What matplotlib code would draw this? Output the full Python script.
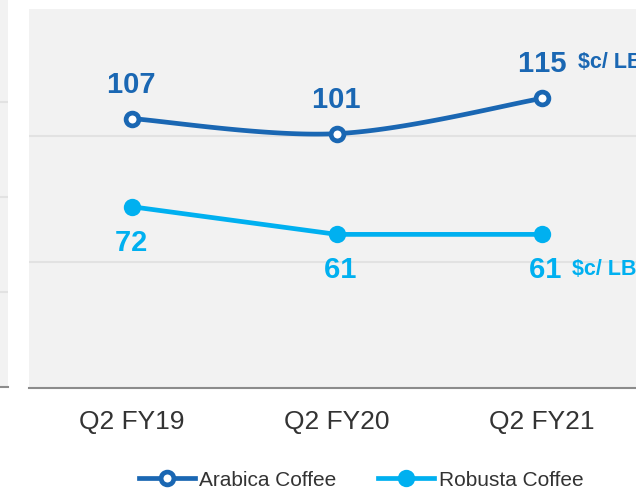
import matplotlib.pyplot as plt
import numpy as np
from matplotlib.lines import Line2D

plt.rcParams['font.family'] = ['Liberation Sans', 'DejaVu Sans']

# chart data
quarters = ["Q2 FY19", "Q2 FY20", "Q2 FY21"]
arabica = [107, 101, 115]
robusta = [72, 61, 61]
unit_label = "\\$c/ LB"
series_names = ["Arabica Coffee", "Robusta Coffee"]

# partial neighbour chart at the left edge (only gridlines visible)
left_grid = [1, 2, 3]

DARK_BLUE = '#1a67b3'
LIGHT_BLUE = '#00b0f0'
PANEL = '#f2f2f2'
GRID = '#e2e2e2'
TEXT = '#333333'

W, H = 636, 491
fig = plt.figure(figsize=(W / 100, H / 100), dpi=100)

# sliver of the previous chart
axl = fig.add_axes([0, (H - 387) / H, 8 / W, 387 / H])
axl.set_facecolor(PANEL)
axl.set_ylim(0, 4.07)
axl.set_xlim(0, 1)
for g in left_grid:
    axl.axhline(g, color=GRID, lw=1.5)
for s in ['top', 'right', 'left']:
    axl.spines[s].set_visible(False)
axl.spines['bottom'].set_color('#8c8c8c')
axl.spines['bottom'].set_linewidth(1.5)
axl.set_xticks([])
axl.set_yticks([])

# main chart
ax = fig.add_axes([29 / W, (H - 388) / H, (644.5 - 29) / W, (388 - 9) / H])
ax.set_facecolor(PANEL)
x = np.arange(len(quarters))
ax.set_xlim(-0.5, len(quarters) - 0.5)
ax.set_ylim(0, 150.5)
ax.set_yticks([50, 100])
ax.yaxis.grid(True, color=GRID, lw=1.5)
ax.set_axisbelow(True)
ax.tick_params(axis='y', length=0, labelleft=False)
ax.set_xticks(x)
ax.set_xticklabels(quarters, fontsize=19, color=TEXT)
ax.tick_params(axis='x', length=0, pad=16)
for s in ['top', 'right', 'left']:
    ax.spines[s].set_visible(False)
ax.spines['bottom'].set_color('#8c8c8c')
ax.spines['bottom'].set_linewidth(1.5)


def smooth(xs, ys, n=60):
    # Excel-style smoothed line: Catmull-Rom Bezier in display space
    pts = ax.transData.transform(np.column_stack([xs, ys]))
    out = []
    m = len(pts)
    for i in range(m - 1):
        p0 = pts[max(i - 1, 0)]
        p1 = pts[i]
        p2 = pts[i + 1]
        p3 = pts[min(i + 2, m - 1)]
        c1 = p1 + (p2 - p0) / 6
        c2 = p2 - (p3 - p1) / 6
        t = np.linspace(0, 1, n)[:, None]
        seg = ((1 - t) ** 3) * p1 + 3 * ((1 - t) ** 2) * t * c1 + 3 * (1 - t) * t ** 2 * c2 + t ** 3 * p2
        out.append(seg)
    out = np.vstack(out)
    return ax.transData.inverted().transform(out)


def num(v):
    # zero-width spaces stop the font's "11" kerning
    return '\u200b'.join(str(v))


LW = 3.4
curve = smooth(x, arabica)
ax.plot(curve[:, 0], curve[:, 1], color=DARK_BLUE, lw=LW, solid_capstyle='round', zorder=3)
ax.plot(x, arabica, ls='none', marker='o', ms=9.2, mew=3.4, mfc='white', mec=DARK_BLUE, zorder=4)
ax.plot(x, robusta, color=LIGHT_BLUE, lw=LW, marker='o', ms=12.5, mew=0, mfc=LIGHT_BLUE, zorder=3)

for xi, v in zip(x, arabica):
    ax.annotate(num(v), (xi, v), xytext=(0, 34), textcoords='offset pixels',
                ha='center', va='center', fontsize=21, fontweight='bold', color=DARK_BLUE)
for xi, v in zip(x, robusta):
    ax.annotate(num(v), (xi, v), xytext=(3 if xi > 0 else 0, -36), textcoords='offset pixels',
                ha='center', va='center', fontsize=21, fontweight='bold', color=LIGHT_BLUE)

ax.annotate(unit_label, (x[-1], arabica[-1]), xytext=(36, 36), textcoords='offset pixels',
            ha='left', va='center', fontsize=15.5, fontweight='bold', color=DARK_BLUE,
            annotation_clip=False)
ax.annotate(unit_label, (x[-1], robusta[-1]), xytext=(30, -35), textcoords='offset pixels',
            ha='left', va='center', fontsize=15.5, fontweight='bold', color=LIGHT_BLUE,
            annotation_clip=False)

handles = [
    Line2D([], [], color=DARK_BLUE, lw=LW, marker='o', ms=9.2, mew=3.4, mfc='white', mec=DARK_BLUE),
    Line2D([], [], color=LIGHT_BLUE, lw=LW, marker='o', ms=12.5, mew=0, mfc=LIGHT_BLUE),
]
fig.legend(handles, series_names, loc='center', bbox_to_anchor=(361 / W, 1 - 480 / H),
           ncol=2, frameon=False, fontsize=15, handlelength=2.7, handletextpad=0.2,
           columnspacing=2.0, labelcolor=TEXT)

fig.savefig('out.png', dpi=100)
